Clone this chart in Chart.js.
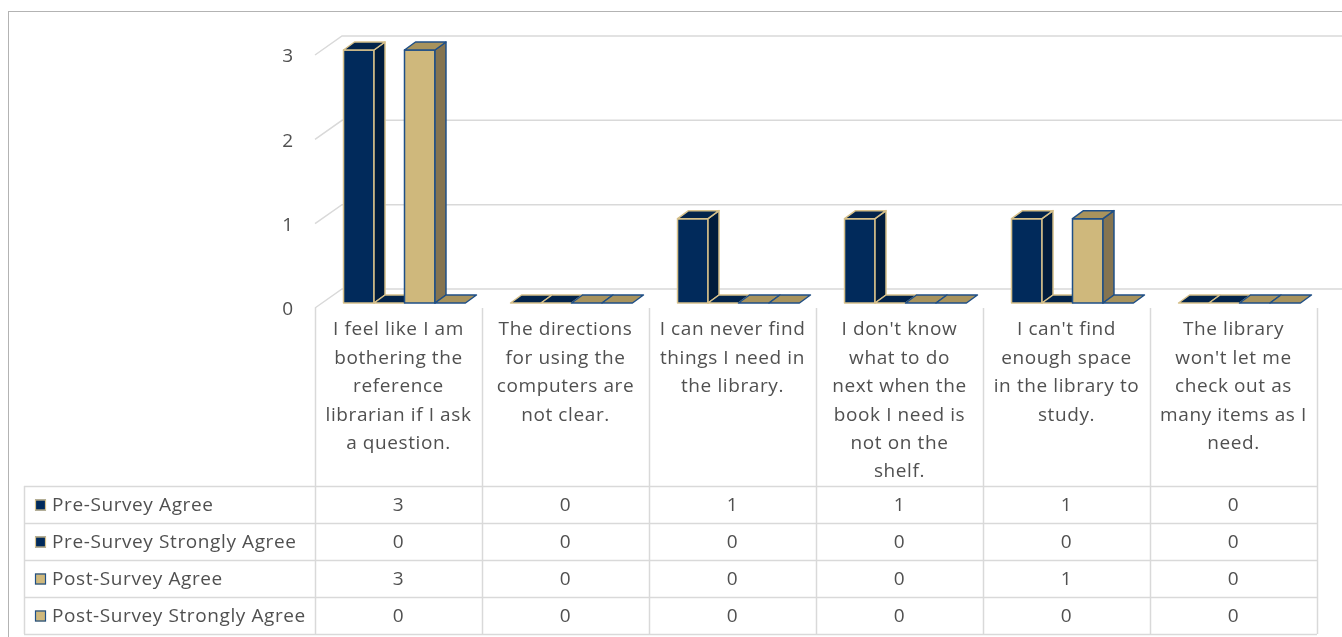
<!DOCTYPE html>
<html lang="en">
  <head>
    <meta charset="UTF-8" />
    <title>Survey 3D column chart</title>
    <script src="https://cdn.jsdelivr.net/npm/chart.js"></script>
    <style>
      body {
        margin: 0;
        background-color: #ffffff;
      }
      #wrap {
        width: 1342px;
        height: 637px;
      }
    </style>
  </head>
  <body>
    <div id="wrap">
      <canvas id="surveyChart" width="1342" height="637"></canvas>
    </div>
    <script>
      // categories (pre-wrapped lines, as in the table header)
      const categories = [
        ["I feel like I am", "bothering the", "reference", "librarian if I ask", "a question."],
        ["The directions", "for using the", "computers are", "not clear."],
        ["I can never find", "things I need in", "the library."],
        ["I don't know", "what to do", "next when the", "book I need is", "not on the", "shelf."],
        ["I can't find", "enough space", "in the library to", "study."],
        ["The library", "won't let me", "check out as", "many items as I", "need."]
      ];
      const seriesNames = [
        "Pre-Survey Agree",
        "Pre-Survey Strongly Agree",
        "Post-Survey Agree",
        "Post-Survey Strongly Agree"
      ];
      const preAgree = [3, 0, 1, 1, 1, 0];
      const preStronglyAgree = [0, 0, 0, 0, 0, 0];
      const postAgree = [3, 0, 0, 0, 1, 0];
      const postStronglyAgree = [0, 0, 0, 0, 0, 0];
      const yTicks = [0, 1, 2, 3];

      const NAVY = { front: "#012a5b", top: "#03244b", side: "#011c3c", edge: "#d6c08a" };
      const GOLD = { front: "#cfb87c", top: "#a8935d", side: "#857450", edge: "#1f4f86" };
      const FONT = "'Open Sans', sans-serif";
      const TEXT = "#505050";
      const DX = 11, DY = 8;      // bar depth
      const SHIFT = 6;            // table columns vs bar groups
      const WALL_DX = 27, WALL_DY = 19;

      const palette = [NAVY, NAVY, GOLD, GOLD];

      // gridlines on back wall + frame
      const wallPlugin = {
        id: "wall",
        beforeDatasetsDraw(chart) {
          const ctx = chart.ctx;
          const y = chart.scales.y;
          const left = chart.chartArea.left - SHIFT;
          ctx.save();
          ctx.strokeStyle = "#b3b3b3";
          ctx.lineWidth = 1;
          ctx.strokeRect(8.5, 11.5, 1400, 700);
          ctx.strokeStyle = "#d9d9d9";
          ctx.lineWidth = 1.5;
          yTicks.forEach(function (v) {
            const yf = y.getPixelForValue(v) + 5;
            ctx.beginPath();
            ctx.moveTo(left, yf);
            ctx.lineTo(left + WALL_DX, yf - WALL_DY);
            ctx.lineTo(chart.width, yf - WALL_DY);
            ctx.stroke();
          });
          ctx.restore();
        }
      };

      // top and side faces for the 3D look
      const facesPlugin = {
        id: "faces",
        afterDatasetsDraw(chart) {
          const ctx = chart.ctx;
          ctx.save();
          ctx.lineWidth = 1.5;
          ctx.lineJoin = "round";
          for (let i = 0; i < categories.length; i++) {
            chart.data.datasets.forEach(function (ds, d) {
              const bar = chart.getDatasetMeta(d).data[i];
              const c = palette[d];
              const l = bar.x - bar.width / 2;
              const r = bar.x + bar.width / 2;
              const t = bar.y;
              const b = bar.base;
              ctx.strokeStyle = c.edge;
              if (b - t > 0.5) {
                ctx.fillStyle = c.front;
                ctx.beginPath();
                ctx.rect(l, t, r - l, b - t);
                ctx.fill();
                ctx.stroke();
                ctx.fillStyle = c.side;
                ctx.beginPath();
                ctx.moveTo(r, t);
                ctx.lineTo(r + DX, t - DY);
                ctx.lineTo(r + DX, b - DY);
                ctx.lineTo(r, b);
                ctx.closePath();
                ctx.fill();
                ctx.stroke();
              }
              ctx.fillStyle = c.top;
              ctx.beginPath();
              ctx.moveTo(l, t);
              ctx.lineTo(l + DX, t - DY);
              ctx.lineTo(r + DX, t - DY);
              ctx.lineTo(r, t);
              ctx.closePath();
              ctx.fill();
              ctx.stroke();
            });
          }
          ctx.restore();
        }
      };

      // data table under the plot
      const tablePlugin = {
        id: "dataTable",
        afterDraw(chart) {
          const ctx = chart.ctx;
          const x = chart.scales.x;
          const y = chart.scales.y;
          const n = categories.length;
          const colW = x.width / n;
          const floorY = y.getPixelForValue(0) + 5;
          const headBottom = 486;
          const rowH = 37;
          const tableLeft = 24;
          const firstLeft = x.getPixelForValue(0) - colW / 2 - SHIFT;
          const lastRight = firstLeft + colW * n;
          const rows = chart.data.datasets.length;
          const tableBottom = headBottom + rowH * rows;

          ctx.save();
          ctx.strokeStyle = "#d9d9d9";
          ctx.lineWidth = 1.5;
          for (let i = 0; i <= n; i++) {
            const xx = Math.round(firstLeft + colW * i) + 0.5;
            ctx.beginPath();
            ctx.moveTo(xx, floorY);
            ctx.lineTo(xx, tableBottom);
            ctx.stroke();
          }
          ctx.beginPath();
          ctx.moveTo(tableLeft + 0.5, headBottom);
          ctx.lineTo(tableLeft + 0.5, tableBottom);
          ctx.stroke();
          for (let r = 0; r <= rows; r++) {
            const yy = Math.round(headBottom + rowH * r) + 0.5;
            ctx.beginPath();
            ctx.moveTo(tableLeft, yy);
            ctx.lineTo(lastRight, yy);
            ctx.stroke();
          }

          // category headers
          ctx.fillStyle = TEXT;
          ctx.font = "19px " + FONT;
          ctx.letterSpacing = "0.6px";
          ctx.textAlign = "center";
          ctx.textBaseline = "middle";
          chart.data.labels.forEach(function (lines, i) {
            const cx = firstLeft + colW * (i + 0.5);
            lines.forEach(function (line, k) {
              ctx.fillText(line, cx, 330 + k * 28.4);
            });
          });

          // rows: key, name, values
          chart.data.datasets.forEach(function (ds, r) {
            const cy = headBottom + rowH * (r + 0.5);
            const c = palette[r];
            ctx.fillStyle = c.front;
            ctx.fillRect(35, cy - 5, 11, 11);
            ctx.strokeStyle = c.edge;
            ctx.lineWidth = 1.2;
            ctx.strokeRect(35.5, cy - 4.5, 10, 10);
            ctx.fillStyle = TEXT;
            ctx.textAlign = "left";
            ctx.fillText(ds.label, 52, cy + 1);
            ctx.textAlign = "center";
            ds.data.forEach(function (v, i) {
              ctx.fillText(String(v), firstLeft + colW * (i + 0.5), cy + 1);
            });
          });
          ctx.restore();
        }
      };

      const ctx = document.getElementById("surveyChart").getContext("2d");
      new Chart(ctx, {
        type: "bar",
        data: {
          labels: categories,
          datasets: [preAgree, preStronglyAgree, postAgree, postStronglyAgree].map(function (vals, d) {
            return {
              label: seriesNames[d],
              data: vals,
              backgroundColor: "rgba(0,0,0,0)",
              borderWidth: 0,
              categoryPercentage: 0.73,
              barPercentage: 1.0
            };
          })
        },
        options: {
          responsive: false,
          animation: false,
          layout: { padding: { top: 50, right: 19, bottom: 334, left: 0 } },
          plugins: {
            legend: { display: false },
            tooltip: { enabled: false }
          },
          scales: {
            x: { display: false },
            y: {
              min: 0,
              max: 3,
              afterFit: function (scale) {
                scale.width = 321;
              },
              grid: { display: false },
              border: { display: false },
              ticks: {
                stepSize: 1,
                padding: 20,
                labelOffset: 7,
                color: TEXT,
                font: { family: FONT, size: 19 }
              }
            }
          }
        },
        plugins: [wallPlugin, facesPlugin, tablePlugin]
      });
    </script>
  </body>
</html>
